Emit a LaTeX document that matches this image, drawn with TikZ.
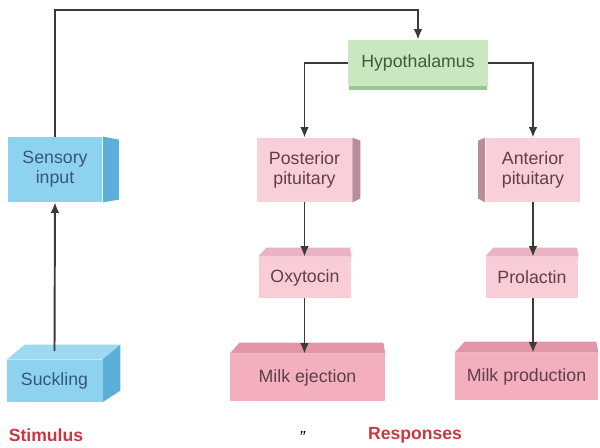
\documentclass[tikz,border=0pt]{standalone}
\usepackage{fontspec}
\setmainfont{Liberation Sans}
\usetikzlibrary{positioning,arrows.meta,calc}

\definecolor{stimfront}{HTML}{8DD3F0}
\definecolor{stimside}{HTML}{5CAFD9}
\definecolor{stimtop}{HTML}{9ED9F2}
\definecolor{stimtext}{HTML}{36577A}
\definecolor{hypofill}{HTML}{C9E8C0}
\definecolor{hyposhade}{HTML}{9CC594}
\definecolor{hypotext}{HTML}{3E5C3E}
\definecolor{pitfill}{HTML}{F9CFD9}
\definecolor{pitside}{HTML}{B88C99}
\definecolor{hormfill}{HTML}{F8CDD8}
\definecolor{hormtop}{HTML}{E9B3C1}
\definecolor{milkfill}{HTML}{F3AFBE}
\definecolor{milktop}{HTML}{E295A6}
\definecolor{pinktext}{HTML}{5E3F4A}
\definecolor{labelred}{HTML}{C8383F}
\definecolor{linegray}{HTML}{3A3A3A}

\begin{document}
\begin{tikzpicture}[x=0.02cm, y=-0.02cm, font=\fontsize{10.1}{11.5}\selectfont]
    \tikzstyle{blk} = [rectangle, inner sep=0pt, text centered, align=center]
    \tikzstyle{stim} = [blk, fill=stimfront, text=stimtext, minimum width=1.9cm]
    \tikzstyle{hypo} = [blk, fill=hypofill, text=hypotext]
    \tikzstyle{pit} = [blk, fill=pitfill, text=pinktext, minimum width=1.9cm, minimum height=1.28cm]
    \tikzstyle{horm} = [blk, fill=hormfill, text=pinktext, minimum width=1.86cm, minimum height=0.82cm]
    \tikzstyle{milk} = [blk, fill=milkfill, text=pinktext, minimum height=0.94cm]
    \tikzstyle{heading} = [text=labelred, font=\fontsize{10}{11.5}\selectfont\bfseries]
    \tikzstyle{arrow} = [-{Latex[length=6pt,width=5pt]}, line width=1.1pt, draw=linegray]

    \useasboundingbox (0,0) rectangle (600,448);

    % stimulus side
    \node [stim, minimum height=1.3cm] (sensory) at (55,169.5) {Sensory\\input};
    \node [stim, minimum height=0.84cm] (suckling) at (54.5,381) {Suckling};
    \fill [stimside] (sensory.north east) -- ++(16,3) -- ++(0,60) -- (sensory.south east) -- cycle;
    \fill [stimtop] (suckling.north west) -- ++(18,-15) -- ($(suckling.north east)+(18,-15)$) -- (suckling.north east) -- cycle;
    \fill [stimside] (suckling.north east) -- ++(18,-15) -- ++(0,46) -- (suckling.south east) -- cycle;

    % brain
    \node [hypo, minimum width=2.8cm, minimum height=0.92cm] (hypo) at (418,63) {Hypothalamus};
    \fill [hyposhade] ([xshift=1pt]hypo.south west) rectangle ([xshift=-1pt,yshift=-0.08cm]hypo.south east);
    \coordinate (loop) at (418,10);

    % responses
    \node [pit] (post) at (304.5,170) {Posterior\\pituitary};
    \node [pit] (ant) at (533,170) {Anterior\\pituitary};
    \fill [pitside] (post.north east) -- ++(8,3) -- ++(0,58) -- (post.south east) -- cycle;
    \fill [pitside] (ant.north west) -- ++(-7,3) -- ++(0,58) -- (ant.south west) -- cycle;

    \node [horm] (oxy) at (305,277.5) {Oxytocin};
    \node [horm] (prl) at (532,277.5) {Prolactin};
    \foreach \n in {oxy,prl}
        \fill [hormtop] (\n.north west) -- ++(8,-9) -- ($(\n.north east)+(-2,-9)$) -- (\n.north east) -- cycle;

    \node [milk, minimum width=3.1cm] (eject) at (307.5,377.5) {Milk ejection};
    \node [milk, minimum width=2.86cm] (prod) at (526.5,376.5) {Milk production};
    \foreach \n in {eject,prod}
        \fill [milktop] (\n.north west) -- ++(10,-11) -- ($(\n.north east)+(-2,-11)$) -- (\n.north east) -- cycle;

    % connectors
    \draw [arrow] ([yshift=0.17cm]suckling.north) -- (sensory.south);
    \draw [arrow] (sensory.north) |- (loop) -- (hypo.north);
    \draw [arrow] (hypo.west) -| (post.north);
    \draw [arrow] (hypo.east) -| (ant.north);
    \draw [arrow] (post.south) -- (post.south |- oxy.north);
    \draw [arrow] (post.south |- oxy.south) -- (post.south |- eject.north);
    \draw [arrow] (ant.south) -- (ant.south |- prl.north);
    \draw [arrow] (ant.south |- prl.south) -- (ant.south |- prod.north);

    \node [heading] (stimulus) at (46,435) {Stimulus};
    \node [heading] (responses) at (415,435) {Responses};
    \node [font=\fontsize{10}{11.5}\selectfont\itshape] (mark) at (302,437) {”};
\end{tikzpicture}
\end{document}
